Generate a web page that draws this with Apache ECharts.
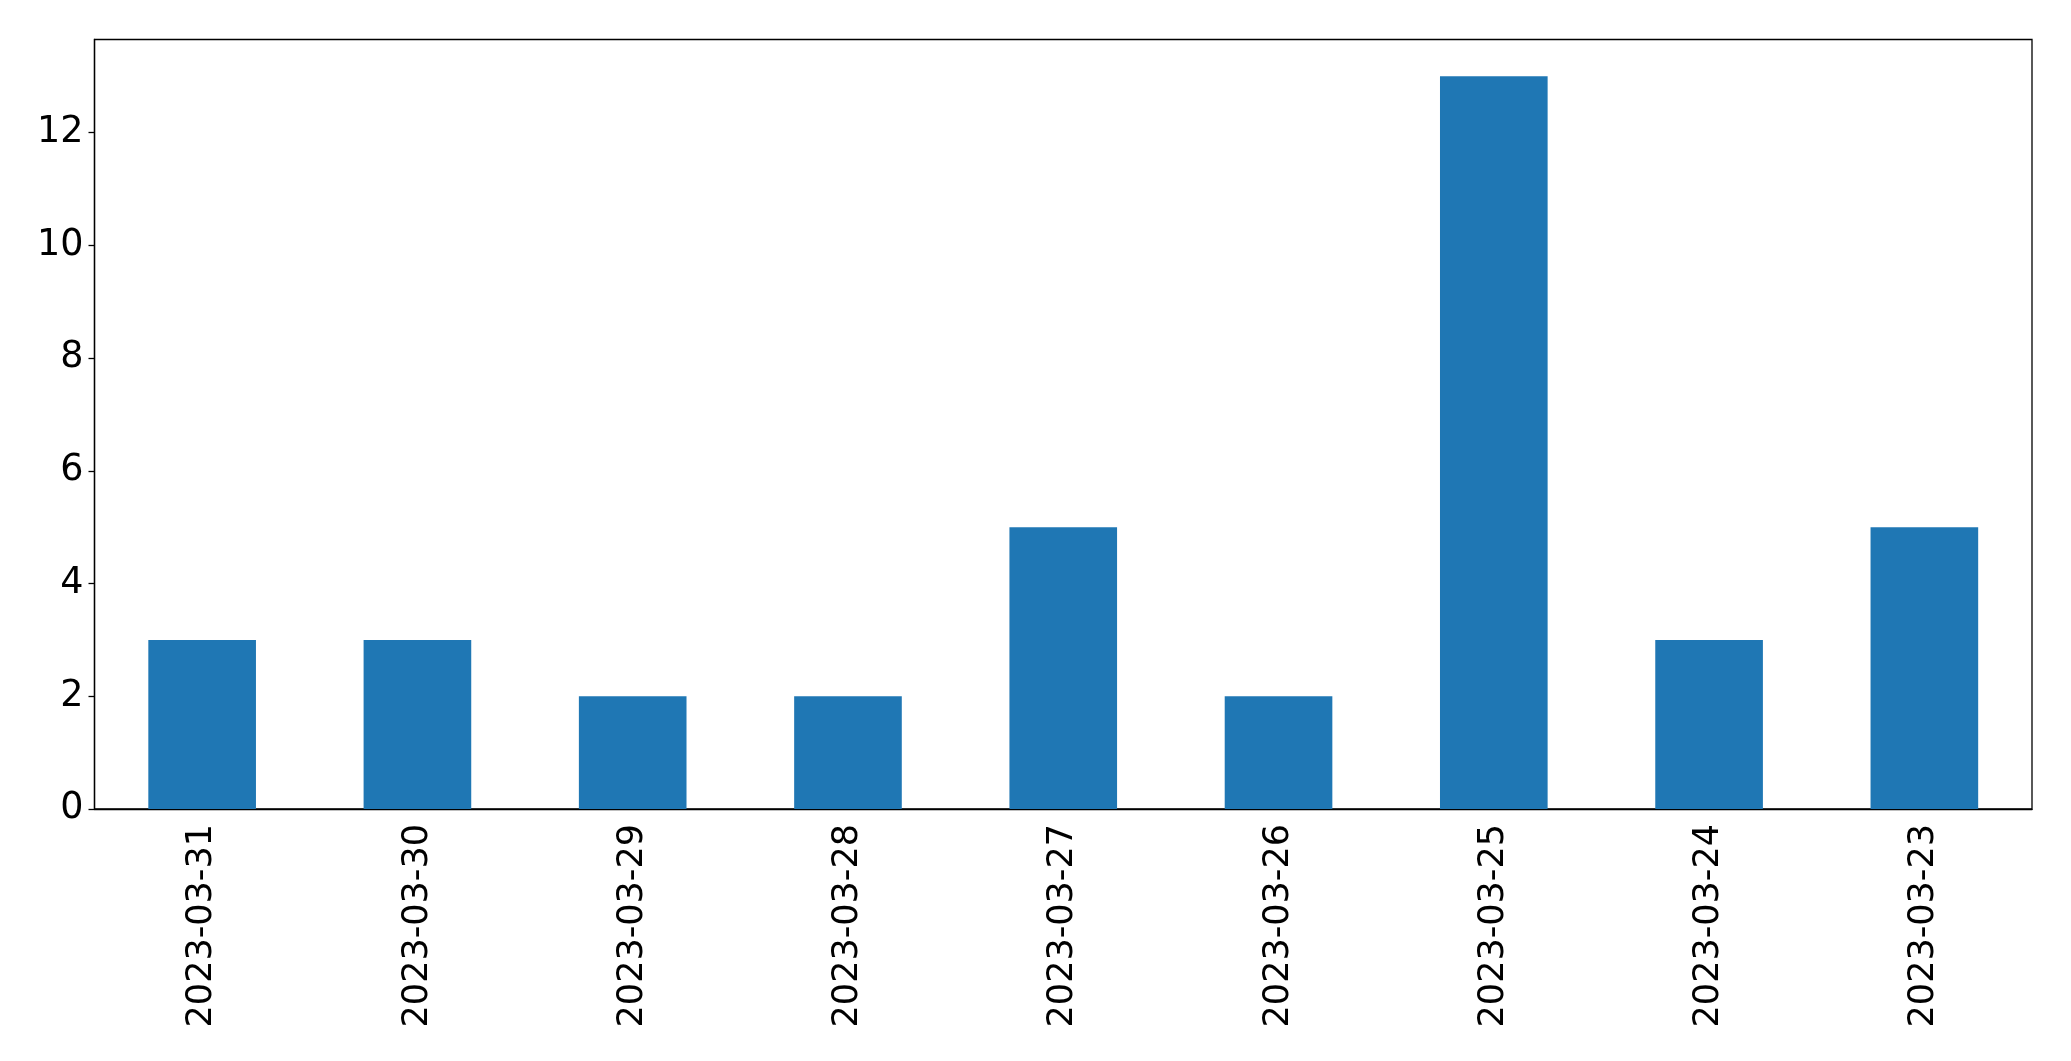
<!DOCTYPE html>
<html>
<head>
<meta charset="utf-8">
<script src="https://cdn.jsdelivr.net/npm/echarts@6/dist/echarts.min.js"></script>
<style>html,body{margin:0;padding:0;background:#fff;}#c{width:2071px;height:1061px;}</style>
</head>
<body>
<div id="c"></div>
<script>
var categories = ['2023-03-31','2023-03-30','2023-03-29','2023-03-28','2023-03-27','2023-03-26','2023-03-25','2023-03-24','2023-03-23'];
var values = [3,3,2,2,5,2,13,3,5];

var chart = echarts.init(document.getElementById('c'), null, {renderer:'canvas'});
chart.setOption({
  animation:false,
  backgroundColor:'#fff',
  grid:{left:94.5,right:39,top:39.5,bottom:252,show:true,borderColor:'#000',borderWidth:1.3,backgroundColor:'transparent'},
  xAxis:{
    type:'category',
    data:categories,
    axisLine:{lineStyle:{color:'#000',width:1.3}},
    axisTick:{alignWithLabel:true,length:6,lineStyle:{color:'#000',width:1.3}},
    axisLabel:{rotate:90,margin:15,color:'#000',fontSize:35,fontFamily:'DejaVu Sans'},
    splitLine:{show:false}
  },
  yAxis:{
    type:'value',
    min:0,max:13.65,interval:2,
    axisLine:{show:true,lineStyle:{color:'#000',width:1.3}},
    axisTick:{show:true,length:6,lineStyle:{color:'#000',width:1.3}},
    axisLabel:{color:'#000',fontSize:36.5,fontFamily:'DejaVu Sans',margin:11,showMaxLabel:false},
    splitLine:{show:false}
  },
  series:[{
    type:'bar',
    data:values,
    barWidth:'50%',
    itemStyle:{color:'#1f77b4'}
  }]
});
</script>
</body>
</html>
